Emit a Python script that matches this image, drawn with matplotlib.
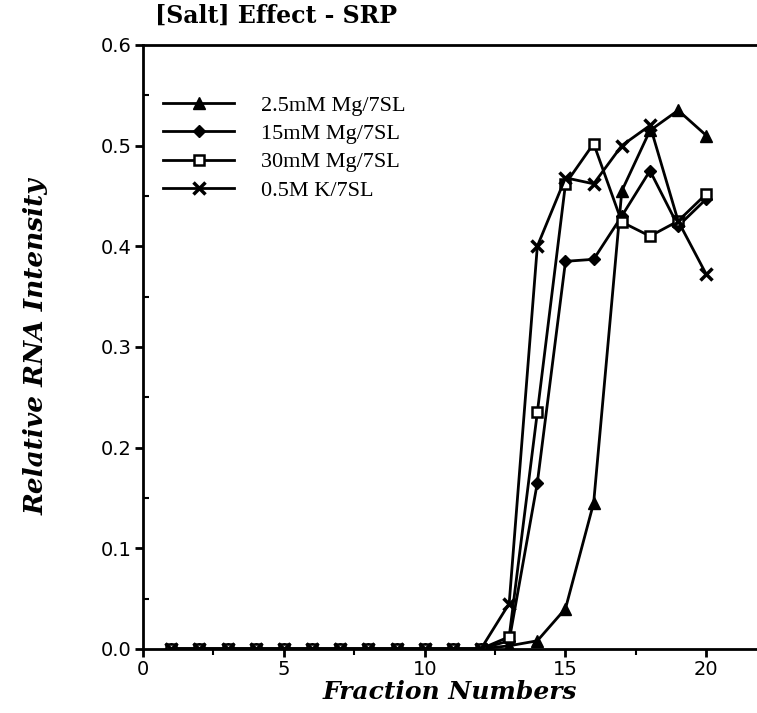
import numpy as np
import matplotlib
matplotlib.use('Agg')
import matplotlib.pyplot as plt
from matplotlib.ticker import MultipleLocator, FormatStrFormatter

fractions = np.arange(1, 21)

zeros = [0.0] * 12
mg_2_5 = zeros + [0.003, 0.008, 0.040, 0.145, 0.455, 0.515, 0.535, 0.510]
mg_15 = zeros + [0.008, 0.165, 0.385, 0.387, 0.430, 0.475, 0.420, 0.447]
mg_30 = zeros + [0.012, 0.235, 0.462, 0.502, 0.424, 0.410, 0.425, 0.452]
k_05 = zeros + [0.045, 0.400, 0.468, 0.462, 0.500, 0.520, 0.425, 0.372]

labels = ['2.5mM Mg/7SL', '15mM Mg/7SL', '30mM Mg/7SL', '0.5M K/7SL']

fig = plt.figure(figsize=(7.57, 7.13), dpi=100)
ax = fig.add_axes([0.189, 0.09, 0.811, 0.847])

ax.plot(fractions, mg_2_5, c='k', lw=2, marker='^', ms=8, label=labels[0])
ax.plot(fractions, mg_15, c='k', lw=2, marker='D', ms=6, label=labels[1])
ax.plot(fractions, mg_30, c='k', lw=2, marker='s', ms=7, mfc='white', mew=1.8, label=labels[2])
ax.plot(fractions, k_05, c='k', lw=2, marker='x', ms=9, mew=2.5, label=labels[3])

ax.set_xlim(0, 21.8)
ax.set_ylim(0, 0.6)
ax.xaxis.set_major_locator(MultipleLocator(5))
ax.xaxis.set_minor_locator(MultipleLocator(2.5))
ax.yaxis.set_major_locator(MultipleLocator(0.1))
ax.yaxis.set_minor_locator(MultipleLocator(0.05))
ax.yaxis.set_major_formatter(FormatStrFormatter('%.1f'))

ax.tick_params(which='major', direction='out', length=6, width=2, labelsize=14, pad=2)
ax.tick_params(which='minor', axis='y', direction='in', length=4, width=1.5)
ax.tick_params(which='minor', axis='x', direction='out', length=4, width=1.5)
for lab in ax.get_xticklabels() + ax.get_yticklabels():
  lab.set_family('DejaVu Sans')

ax.spines['right'].set_visible(False)
for s in ['left', 'bottom', 'top']:
  ax.spines[s].set_linewidth(2)

ax.set_xlabel('Fraction Numbers', fontsize=18, fontweight='bold', fontstyle='italic',
              family='DejaVu Serif', labelpad=1)
ax.set_ylabel('Relative RNA Intensity', fontsize=19, fontweight='bold', fontstyle='italic',
              family='DejaVu Serif', labelpad=38)
fig.text(0.205, 0.978, '[Salt] Effect - SRP', fontsize=17, fontweight='bold',
         family='DejaVu Serif', va='center', ha='left')

leg = ax.legend(loc='upper left', bbox_to_anchor=(0.0, 0.95), frameon=False,
                prop={'family': 'Liberation Serif', 'size': 16}, handlelength=3.2,
                handletextpad=1.2, labelspacing=0.35)

fig.savefig('out.png', dpi=100)
